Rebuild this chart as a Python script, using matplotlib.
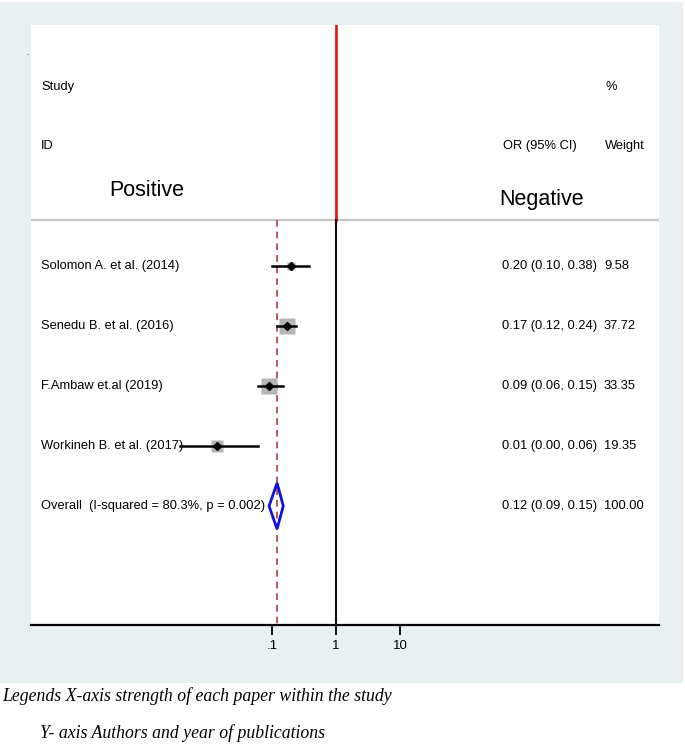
import numpy as np
import matplotlib
matplotlib.use("Agg")
import matplotlib.pyplot as plt
from matplotlib.patches import Rectangle, Polygon
import matplotlib.transforms as mtransforms

plt.rcParams['font.family'] = ['Liberation Sans', 'DejaVu Sans']

# study data (odds ratios)
studies = ["Solomon A. et al. (2014)", "Senedu B. et al. (2016)",
           "F.Ambaw et.al (2019)", "Workineh B. et al. (2017)"]
es = [0.20, 0.17, 0.09, 0.014]
lo = [0.10, 0.12, 0.06, 0.0036]
hi = [0.38, 0.24, 0.15, 0.06]
or_text = ["0.20 (0.10, 0.38)", "0.17 (0.12, 0.24)",
           "0.09 (0.06, 0.15)", "0.01 (0.00, 0.06)"]
weights = [9.58, 37.72, 33.35, 19.35]

overall_label = "Overall  (I-squared = 80.3%, p = 0.002)"
overall_es = 0.12
overall_lo = 0.09
overall_hi = 0.15
overall_text = "0.12 (0.09, 0.15)"
overall_weight = "100.00"

xticks = [0.1, 1, 10]
xtick_labels = [".1", "1", "10"]

W, H = 685, 756
fig = plt.figure(figsize=(W / 100, H / 100), dpi=100)
fig.patch.set_facecolor("white")

# outer light panel (Stata graph region)
fig.patches.append(Rectangle((0, 1 - 683 / H), 683 / W, 681 / H, transform=fig.transFigure,
                             facecolor="#e8f0f2", edgecolor="none", zorder=-10))

# plot region in pixels: x 31..659, y 25..625
ax = fig.add_axes([31 / W, 1 - 625 / H, 628 / W, 600 / H])
ax.set_zorder(1)
ax.set_facecolor("white")
ax.set_xscale("log")
ax.set_xlim(10 ** ((31 - 336) / 64), 10 ** ((659 - 336) / 64))
# rows every 60 px, row 1 at y=266 px
ax.set_ylim((625 - 266) / 60 + 1, (25 - 266) / 60 + 1)

for s in ["top", "left", "right"]:
    ax.spines[s].set_visible(False)
ax.spines["bottom"].set_linewidth(1.6)
ax.set_yticks([])
ax.set_xticks(xticks)
ax.set_xticklabels(xtick_labels, fontsize=9.5)
ax.minorticks_off()
ax.tick_params(axis="x", length=7, width=1.3, pad=4)

sep_y = (220 - 266) / 60 + 1
ymax = (625 - 266) / 60 + 1
ymin = (25 - 266) / 60 + 1

# separator and reference lines
ax.plot(ax.get_xlim(), [sep_y, sep_y], color="#c4c4c4", lw=1.6, zorder=2)
ax.plot([1, 1], [ymin, sep_y], color="#e41a1c", lw=2, zorder=3)
ax.plot([1, 1], [sep_y, ymax], color="#1a0a0a", lw=1.5, zorder=3)
ax.plot([overall_es, overall_es], [sep_y, ymax], color="#a8403c", lw=1.2,
        ls=(0, (4, 3)), zorder=3)

rows = np.arange(1, len(studies) + 1)
px_to_pt = 0.72
for y, e, l, h, w in zip(rows, es, lo, hi, weights):
    side = 2.6 * np.sqrt(w)
    ax.plot(e, y, marker="s", ms=side * px_to_pt, color="#b5b5b5", mec="none", zorder=4)
    ax.plot([l, h], [y, y], color="black", lw=1.8, zorder=5)
    ax.plot(e, y, marker="D", ms=4, color="black", zorder=6)

oy = len(studies) + 1
hh = 23 / 60
diamond = Polygon([(overall_lo, oy), (overall_es, oy - hh), (overall_hi, oy),
                   (overall_es, oy + hh)], closed=True, fill=False,
                  edgecolor="#1010e0", lw=2, zorder=6)
ax.add_patch(diamond)

# text columns
tr = mtransforms.blended_transform_factory(ax.transAxes, ax.transData)
fx = lambda px: (px - 31) / 628
fs = 9.3
for y, name, t, w in zip(rows, studies, or_text, weights):
    ax.text(fx(41), y, name, transform=tr, fontsize=fs, va="center", ha="left")
    ax.text(fx(502), y, t, transform=tr, fontsize=fs, va="center", ha="left")
    ax.text(fx(604), y, f"{w:.2f}", transform=tr, fontsize=fs, va="center", ha="left")
ax.text(fx(41), oy, overall_label, transform=tr, fontsize=fs, va="center", ha="left")
ax.text(fx(502), oy, overall_text, transform=tr, fontsize=fs, va="center", ha="left")
ax.text(fx(604), oy, overall_weight, transform=tr, fontsize=fs, va="center", ha="left")

rowy = lambda py: (py - 266) / 60 + 1
ax.text(fx(41), rowy(87), "Study", transform=tr, fontsize=fs, va="center")
ax.text(fx(41), rowy(146), "ID", transform=tr, fontsize=fs, va="center")
ax.text(fx(605), rowy(87), "%", transform=tr, fontsize=fs, va="center")
ax.text(fx(577), rowy(146), "OR (95% CI)", transform=tr, fontsize=fs, va="center", ha="right")
ax.text(fx(605), rowy(146), "Weight", transform=tr, fontsize=fs, va="center")
ax.text(fx(147), rowy(190), "Positive", transform=tr, fontsize=15.5, va="center", ha="center")
ax.text(fx(542), rowy(200), "Negative", transform=tr, fontsize=15.5, va="center", ha="center")

fig.text(27 / W, 1 - 57 / H, ".", fontsize=5, ha="center", va="bottom")

# captions below the graph
cap = dict(family=["Liberation Serif", "DejaVu Serif"], style="italic", fontsize=12.8, va="center")
fig.text(2 / W, 1 - 696 / H, "Legends X-axis strength of each paper within the study", **cap)
fig.text(40 / W, 1 - 733 / H, "Y- axis Authors and year of publications", **cap)

fig.savefig("out.png", dpi=100, facecolor=fig.get_facecolor())
